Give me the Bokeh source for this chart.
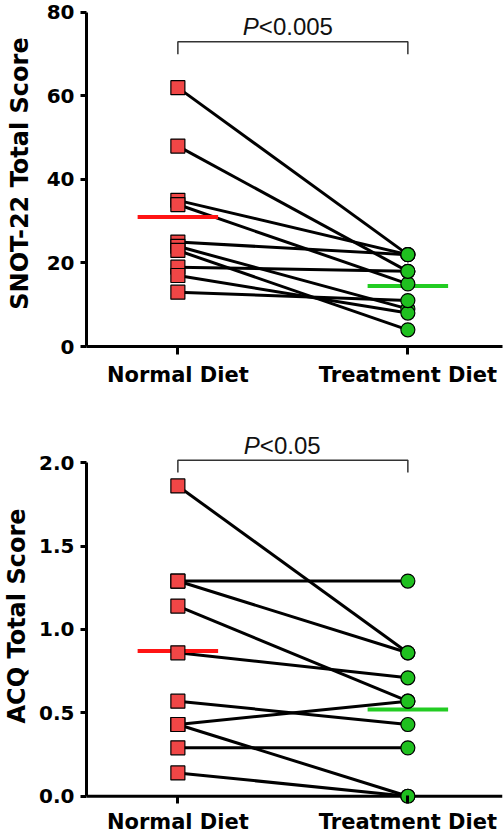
from bokeh.plotting import figure
from bokeh.layouts import column
from bokeh.models import ColumnDataSource, FixedTicker, Span, Range1d
from bokeh.core.properties import value
from bokeh.embed import file_html
from bokeh.resources import INLINE

# ---------------- data ----------------
groups = ["Normal Diet", "Treatment Diet"]
group_x = [1, 2]

snot_normal = [62, 48, 35, 34, 25, 24, 23, 19, 17, 13]
snot_treatment = [22, 18, 22, 15, 22, 9, 4, 18, 8, 11]
snot_means = [31.0, 14.5]
snot_ticks = [0, 20, 40, 60, 80]
snot_p_label = "<0.005"
snot_bracket = [73.0, 70.0]   # bracket bar, bracket leg ends

acq_normal = [1.86, 1.29, 1.29, 1.14, 0.86, 0.57, 0.43, 0.43, 0.29, 0.14]
acq_treatment = [0.86, 1.29, 0.86, 0.57, 0.71, 0.43, 0.57, 0.0, 0.29, 0.0]
acq_means = [0.87, 0.52]
acq_ticks = [0.0, 0.5, 1.0, 1.5, 2.0]
acq_p_label = "<0.05"
acq_bracket = [2.014, 1.94]

# ---------------- style ----------------
RED = "#F04646"
GREEN = "#1FC01F"
MEAN_RED = "#FF1414"
MEAN_GREEN = "#22CC22"
BOLD_FONT = "DejaVu Sans"
MEAN_HALF = 0.175


def panel(normal, treat, means, ticks, tick_labels, ylabel, y_range, bounds,
          bracket, p_label, p_split, height, b_top, b_bottom, zero_hack,
          label_standoff, x_standoff):
    p = figure(width=504, height=height, output_backend="svg", toolbar_location=None,
               x_range=Range1d(0.6027, 2.4115), y_range=Range1d(*y_range),
               min_border_left=80, min_border_right=2,
               min_border_top=b_top, min_border_bottom=b_bottom)
    p.outline_line_color = None
    p.xgrid.visible = False
    p.ygrid.visible = False
    p.background_fill_color = "white"

    n = len(normal)
    src = ColumnDataSource(dict(x0=[group_x[0]] * n, y0=normal,
                                x1=[group_x[1]] * n, y1=treat))
    p.segment("x0", "y0", "x1", "y1", source=src, line_color="black", line_width=3)

    # mean lines
    p.segment(x0=[group_x[0] - MEAN_HALF], y0=[means[0]], x1=[group_x[0] + MEAN_HALF], y1=[means[0]],
              line_color=MEAN_RED, line_width=4)
    p.segment(x0=[group_x[1] - MEAN_HALF], y0=[means[1]], x1=[group_x[1] + MEAN_HALF], y1=[means[1]],
              line_color=MEAN_GREEN, line_width=4)

    p.scatter("x0", "y0", source=src, marker="square", size=14,
              fill_color=RED, line_color="black", line_width=1.2)
    p.scatter("x1", "y1", source=src, marker="circle", size=14,
              fill_color=GREEN, line_color="black", line_width=1.2)

    # significance bracket
    bx = [group_x[0], group_x[0], group_x[1], group_x[1]]
    by = [bracket[1], bracket[0], bracket[0], bracket[1]]
    p.line(bx, by, line_color="#333333", line_width=1.5)
    cx = (group_x[0] + group_x[1]) / 2
    p.text(x=[cx], y=[bracket[0]], text=["P"], text_font=value("Liberation Sans"),
           text_font_style="italic", text_font_size="24px", text_align="right",
           text_baseline="middle", x_offset=p_split, y_offset=-15, text_color="#111111")
    p.text(x=[cx], y=[bracket[0]], text=[p_label], text_font=value("Liberation Sans"),
           text_font_size="24px", text_align="left",
           text_baseline="middle", x_offset=p_split, y_offset=-15, text_color="#111111")

    # axes
    p.xaxis.ticker = FixedTicker(ticks=group_x)
    p.xaxis.major_label_overrides = {group_x[0]: groups[0], group_x[1]: groups[1]}
    p.xaxis.minor_tick_line_color = None
    p.xaxis.major_tick_line_width = 3
    p.xaxis.axis_line_width = 3
    p.xaxis.major_label_text_font = BOLD_FONT
    p.xaxis.major_label_text_font_style = "bold"
    p.xaxis.major_label_text_font_size = "21px"
    p.xaxis.major_label_text_color = "black"
    p.xaxis.major_label_standoff = x_standoff
    if zero_hack:
        p.xaxis.axis_line_color = None
        p.xaxis.major_tick_in = 8
        p.xaxis.major_tick_out = 0
        p.add_layout(Span(location=0, dimension="width", line_color="black",
                          line_width=3, level="underlay"))
    else:
        p.xaxis.major_tick_in = 0
        p.xaxis.major_tick_out = 8

    p.yaxis.ticker = FixedTicker(ticks=ticks)
    p.yaxis.major_label_overrides = {t: l for t, l in zip(ticks, tick_labels)}
    p.yaxis.bounds = bounds
    p.yaxis.minor_tick_line_color = None
    p.yaxis.major_tick_in = 0
    p.yaxis.major_tick_out = 6
    p.yaxis.major_tick_line_width = 3
    p.yaxis.axis_line_width = 3
    p.yaxis.major_label_text_font = BOLD_FONT
    p.yaxis.major_label_text_font_style = "bold"
    p.yaxis.major_label_text_font_size = "20px"
    p.yaxis.major_label_text_color = "black"
    p.yaxis.major_label_standoff = 6
    p.yaxis.axis_label = ylabel
    p.yaxis.axis_label_text_font = BOLD_FONT
    p.yaxis.axis_label_text_font_style = "bold"
    p.yaxis.axis_label_text_font_size = "24px"
    p.yaxis.axis_label_text_color = "black"
    p.yaxis.axis_label_standoff = label_standoff
    return p


top = panel(snot_normal, snot_treatment, snot_means, snot_ticks,
            [str(t) for t in snot_ticks], "SNOT-22 Total Score",
            (0, 82.87), (0, 80), snot_bracket, snot_p_label, -34,
            400, 0, 54, False, 10, 8)
bottom = panel(acq_normal, acq_treatment, acq_means, acq_ticks,
               ["%.1f" % t for t in acq_ticks], "ACQ Total Score",
               (-0.0435, 2.2045), (0, 2), acq_bracket, acq_p_label, -33,
               436, 28, 31, True, 5, 6)

layout = column(top, bottom, spacing=0)
open("out.html", "w").write(file_html(layout, INLINE))
